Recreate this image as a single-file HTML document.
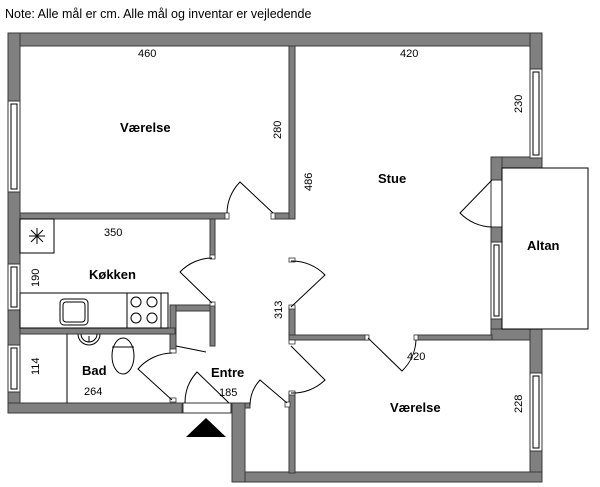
<!DOCTYPE html>
<html><head><meta charset="utf-8"><style>
html,body{margin:0;padding:0;background:#fff;}
svg{display:block;font-family:"Liberation Sans",sans-serif;}
.w{fill:#808080;stroke:#3a3a3a;stroke-width:1;}
.l{fill:none;stroke:#000;stroke-width:1;}
.win{fill:#fff;stroke:#333;stroke-width:1;}
.t{font-size:11px;fill:#000;}
.b{font-size:13px;font-weight:bold;fill:#000;}
</style></head><body>
<svg width="600" height="487" viewBox="0 0 600 487">
<text x="5" y="18" style="font-size:12.5px">Note: Alle mål er cm. Alle mål og inventar er vejledende</text>
<!-- outer walls -->
<rect class="w" x="8" y="33" width="534" height="13"/>
<rect class="w" x="8" y="33" width="12" height="380"/>
<rect class="w" x="530" y="33" width="12" height="135"/>
<rect class="w" x="491" y="157" width="51" height="11"/>
<rect class="w" x="491" y="157" width="11" height="183"/>
<rect class="w" x="491" y="329" width="51" height="11"/>
<rect class="w" x="530" y="329" width="12" height="153"/>
<rect class="w" x="232" y="472" width="310" height="10"/>
<rect class="w" x="232" y="403" width="13" height="79"/>
<rect class="w" x="8" y="403" width="174" height="10"/>
<!-- interior walls -->
<rect class="w" x="20" y="213" width="207" height="6"/>
<rect class="w" x="273" y="213" width="18" height="6"/>
<rect class="w" x="289" y="46" width="6" height="173"/>
<rect class="w" x="289" y="307" width="6" height="33"/>
<rect class="w" x="289" y="335" width="79" height="5"/>
<rect class="w" x="416" y="335" width="76" height="5"/>
<rect class="w" x="289" y="393" width="6" height="80"/>
<rect class="w" x="210" y="219" width="5" height="39"/>
<rect class="w" x="170" y="305" width="45" height="6"/>
<rect class="w" x="210" y="305" width="5" height="41"/>
<rect class="w" x="170" y="305" width="6" height="47"/>
<rect class="w" x="20" y="328" width="155" height="6"/>
<rect class="w" x="245" y="403" width="5" height="5"/>
<!-- windows -->
<rect class="win" x="8" y="101" width="12" height="91"/><rect class="l" x="11" y="104" width="6" height="85"/>
<rect class="win" x="8" y="264" width="12" height="46"/><rect class="l" x="11" y="267" width="6" height="40"/>
<rect class="win" x="8" y="345" width="12" height="47"/><rect class="l" x="11" y="348" width="6" height="41"/>
<rect class="win" x="530" y="69" width="12" height="89"/><rect class="l" x="533" y="72" width="6" height="83"/>
<rect class="win" x="530" y="373" width="12" height="78"/><rect class="l" x="533" y="376" width="6" height="72"/>
<rect class="win" x="491" y="242" width="11" height="77"/><rect class="l" x="494" y="245" width="5" height="71"/>
<rect class="win" x="491" y="180" width="11" height="47"/>
<rect class="win" x="183" y="403" width="48" height="10"/>
<!-- altan -->
<rect x="502" y="168" width="86" height="161" fill="#fff" stroke="#000"/>
<!-- door stubs -->
<g fill="#fff" stroke="#333" stroke-width="0.8">
<rect x="225" y="213" width="4" height="6"/><rect x="271" y="213" width="4" height="6"/>
<rect x="210" y="255" width="5" height="4"/><rect x="210" y="302" width="5" height="4"/>
<rect x="289" y="258" width="6" height="4"/><rect x="289" y="305" width="6" height="4"/>
<rect x="365" y="335" width="4" height="5"/><rect x="414" y="335" width="4" height="5"/>
<rect x="289" y="340" width="6" height="4"/><rect x="289" y="391" width="6" height="4"/>
<rect x="170" y="349" width="6" height="4"/><rect x="170" y="398" width="6" height="4"/>
<rect x="285" y="402" width="5" height="5"/>
</g>
<!-- door swings -->
<path class="l" d="M273 213 L240 182 A45 45 0 0 0 227 213"/>
<path class="l" d="M212 303 L180 272 A45 45 0 0 1 212 258"/>
<path class="l" d="M291 307 L325 275 A46 46 0 0 0 291 261"/>
<path class="l" d="M368 338 L402 371 A46 46 0 0 0 416 340"/>
<path class="l" d="M291 346 L325 380 A46 46 0 0 1 291 393"/>
<path class="l" d="M172 400 L138 369 A46 46 0 0 1 172 353"/>
<path class="l" d="M229 403 L197 372 A45 45 0 0 0 185 403"/>
<path class="l" d="M287 403 L260 380 A38 38 0 0 0 250 405"/>
<path class="l" d="M492 180 L460 213 A46 46 0 0 0 492 227"/>
<path class="l" d="M176 346 L206 352"/>
<!-- kitchen -->
<rect class="l" x="20" y="219" width="34" height="34"/>
<path class="l" d="M29 236 H45 M37 228 V244 M31 230 L43 242 M43 230 L31 242"/>
<rect class="l" x="20" y="293" width="148" height="35"/>
<line class="l" x1="127" y1="293" x2="127" y2="328"/><line class="l" x1="161" y1="293" x2="161" y2="328"/>
<circle class="l" cx="136" cy="302" r="5"/><circle class="l" cx="152" cy="302" r="5"/>
<circle class="l" cx="136" cy="318" r="5"/><circle class="l" cx="152" cy="318" r="5"/>
<rect class="l" x="60" y="299" width="28" height="26" rx="4"/><rect class="l" x="63" y="302" width="22" height="20" rx="3"/>
<!-- bath -->
<line class="l" x1="67" y1="334" x2="67" y2="403"/>
<path class="l" d="M78 334 A11 11 0 0 0 100 334"/><path class="l" d="M81 334 A8 8 0 0 0 97 334"/>
<line class="l" x1="89" y1="336" x2="89" y2="342"/>
<ellipse class="l" cx="123" cy="356" rx="11" ry="18"/><line class="l" x1="112" y1="347" x2="134" y2="347"/>
<!-- entrance arrow -->
<polygon points="186,437 226,437 206,418" fill="#000"/>
<!-- labels -->
<text class="b" x="120" y="132">Værelse</text>
<text class="b" x="378" y="183">Stue</text>
<text class="b" x="527" y="250">Altan</text>
<text class="b" x="89" y="279">Køkken</text>
<text class="b" x="82" y="375">Bad</text>
<text class="b" x="211" y="377">Entre</text>
<text class="b" x="390" y="412">Værelse</text>
<text class="t" x="138" y="57">460</text>
<text class="t" x="400" y="57">420</text>
<text class="t" x="104" y="236">350</text>
<text class="t" x="84" y="395">264</text>
<text class="t" x="219" y="396">185</text>
<text class="t" x="407" y="360">420</text>
<text class="t" transform="translate(281,139) rotate(-90)">280</text>
<text class="t" transform="translate(312,191) rotate(-90)">486</text>
<text class="t" transform="translate(522,113) rotate(-90)">230</text>
<text class="t" transform="translate(39,287) rotate(-90)">190</text>
<text class="t" transform="translate(39,375) rotate(-90)">114</text>
<text class="t" transform="translate(282,319) rotate(-90)">313</text>
<text class="t" transform="translate(522,413) rotate(-90)">228</text>
</svg>
</body></html>
